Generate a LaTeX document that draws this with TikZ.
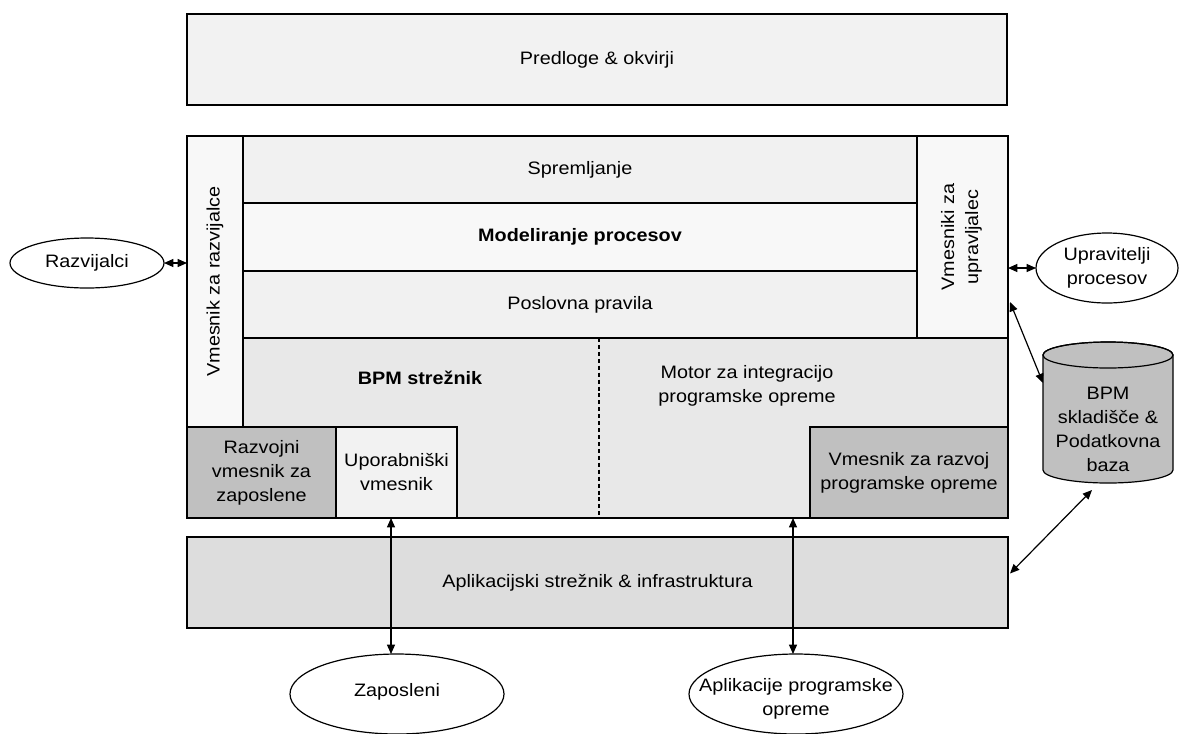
\documentclass[tikz,border=0pt]{standalone}
\usepackage{fontspec}
\setmainfont{Liberation Sans}[FakeStretch=1.1]
\usetikzlibrary{arrows.meta,calc,shapes.geometric}
\newcommand\dfont{\fontsize{13.5}{18}\selectfont}
\definecolor{cTop}{HTML}{F2F2F2}
\definecolor{cRow}{HTML}{F1F1F1}
\definecolor{cRowL}{HTML}{F8F8F8}
\definecolor{cStrip}{HTML}{F8F8F8}
\definecolor{cLow}{HTML}{E8E8E8}
\definecolor{cDark}{HTML}{C0C0C0}
\definecolor{cApp}{HTML}{DDDDDD}
\begin{document}
\begin{tikzpicture}[x=0.75pt,y=-0.75pt,
  font=\dfont,
  box/.style={draw, line width=0.9pt, inner sep=0pt, outer sep=0pt, anchor=north west, align=center},
  txt/.style={align=center, inner sep=0pt},
  ell/.style={draw, ellipse, fill=white, line width=0.9pt, inner sep=0pt, outer sep=0pt},
  dbl/.style={{Triangle[length=7pt,width=6pt]}-{Triangle[length=7pt,width=6pt]}, line width=0.9pt},
  dsh/.style={line width=0.8pt, dash pattern=on 3pt off 2.2pt}]
\useasboundingbox (0,0) rectangle (1180,733);

% top box
\node[box, fill=cTop, minimum width=615pt, minimum height=68.25pt] (top) at (187,14) {Predloge \& okvirji};

% main block: lower area
\node[box, fill=cLow, minimum width=615.75pt, minimum height=135pt] (low) at (187,338) {};
\draw[dsh] (599,338) -- (599,518);
\node[txt, font=\dfont\bfseries] (bpm) at (420,378) {BPM strežnik};
\node[txt] (motor) at (747,386) {Motor za integracijo\\programske opreme};

% strips
\node[box, fill=cStrip, minimum width=42pt, minimum height=218.25pt] (lstrip) at (187,136) {};
\node[txt, rotate=90] at (lstrip.center) {Vmesnik za razvijalce};
\node[box, fill=cStrip, minimum width=68.25pt, minimum height=151.5pt] (ustrip) at (917,136) {};
\node[txt, rotate=90] at ($(ustrip.center)+(-1,0)$) {Vmesniki za\\upravljalec};

% rows
\node[box, fill=cRow, minimum width=505.5pt, minimum height=50.25pt] (sprem) at (243,136) {Spremljanje};
\node[box, fill=cRowL, minimum width=505.5pt, minimum height=51pt, font=\dfont\bfseries] (model) at (243,203) {Modeliranje procesov};
\node[box, fill=cRow, minimum width=505.5pt, minimum height=50.25pt] (posl) at (243,271) {Poslovna pravila};

% bottom boxes in main block
\node[box, fill=cDark, minimum width=111.75pt, minimum height=68.25pt] (razv) at (187,427) {Razvojni\\vmesnik za\\zaposlene};
\node[box, fill=cTop, minimum width=90.75pt, minimum height=68.25pt] (upor) at (336,427) {Uporabniški\\vmesnik};
\node[box, fill=cDark, minimum width=148.5pt, minimum height=68.25pt] (vrazv) at (810,427) {Vmesnik za razvoj\\programske opreme};

% application server
\node[box, fill=cApp, minimum width=615.75pt, minimum height=68.25pt] (app) at (187,537) {Aplikacijski strežnik \& infrastruktura};

% ellipses
\node[ell, minimum width=115.5pt, minimum height=37.5pt] (raz) at (87,263) {};
\node[txt] at (raz.center) {Razvijalci};
\node[ell, minimum width=106.5pt, minimum height=52.5pt] (upr) at (1107,268) {};
\node[txt] at (upr.center) {Upravitelji\\procesov};
\node[ell, minimum width=160.5pt, minimum height=60pt] (zap) at (397,694) {};
\node[txt] at ($(zap.center)+(0,-2)$) {Zaposleni};
\node[ell, minimum width=160.5pt, minimum height=60pt] (apl) at (796,694) {};
\node[txt] at ($(apl.center)+(0,5)$) {Aplikacije programske\\opreme};

% database cylinder
\node[inner sep=0pt, outer sep=0pt, minimum width=97.5pt, minimum height=105.75pt] (db) at (1108,412.5) {};
\fill[cDark, draw=black, line width=0.9pt] (1043,355) -- (1043,470) arc (180:360:48.75pt and 9.75pt) -- (1173,355) arc (0:180:48.75pt and 9.75pt) -- cycle;
\draw[line width=0.9pt] (1108,355) ellipse [x radius=48.75pt, y radius=9.75pt];
\node[txt] at (1108,429) {BPM\\skladišče \&\\Podatkovna\\baza};

% connectors
\draw[dbl] (raz.east) -- (raz.east -| lstrip.west);
\draw[dbl] (upr.west) -- (upr.west -| ustrip.east);
\draw[dbl] ($(ustrip.south east)+(2,-36)$) -- ($(db.north west)+(0,41)$);
\draw[dbl] ($(db.south)+(-16,7)$) -- ($(app.east)+(2,-9)$);
\draw[dbl] ([xshift=-4.5pt]zap.north) -- ([xshift=-4.5pt]zap.north |- upor.south);
\draw[dbl] ([xshift=-2.25pt]apl.north) -- ([xshift=-2.25pt]apl.north |- low.south);
\end{tikzpicture}
\end{document}
